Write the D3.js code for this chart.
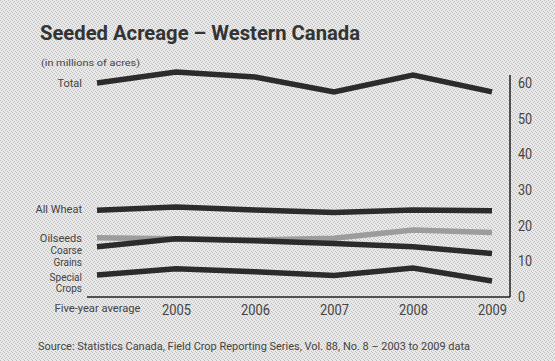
<!DOCTYPE html>
<html>
<head>
<meta charset="utf-8">
<script src="https://cdn.jsdelivr.net/npm/d3@7"></script>
<style>
  html, body { margin: 0; padding: 0; background: #e6e6e6; }
  svg { display: block; }
  text { font-family: "Roboto", "Liberation Sans", sans-serif; }
</style>
</head>
<body>
<svg id="chart" width="555" height="361"></svg>
<script>
// Seeded acreage, Western Canada (millions of acres)
const periods = ["Five-year average", "2005", "2006", "2007", "2008", "2009"];
const total        = [60.0, 63.1, 61.7, 57.5, 62.2, 57.5];
const allWheat     = [24.3, 25.2, 24.4, 23.7, 24.4, 24.2];
const oilseeds     = [16.6, 16.3, 16.0, 16.5, 18.8, 18.1];
const coarseGrains = [14.1, 16.3, 15.8, 15.0, 14.1, 12.2];
const specialCrops = [6.2, 7.9, 7.1, 6.0, 8.1, 4.5];
const yTicks = [0, 10, 20, 30, 40, 50, 60];

const series = [
  { name: ["Total"], values: total, color: "#2b2b2b" },
  { name: ["All Wheat"], values: allWheat, color: "#2b2b2b" },
  { name: ["Oilseeds"], values: oilseeds, color: "#9c9c9c" },
  { name: ["Coarse", "Grains"], values: coarseGrains, color: "#2b2b2b" },
  { name: ["Special", "Crops"], values: specialCrops, color: "#2b2b2b" }
];

const svg = d3.select("#chart");

// Fine grain texture for the paper background
const defs = svg.append("defs");
const pat = defs.append("pattern")
  .attr("id", "grain").attr("width", 4).attr("height", 4)
  .attr("patternUnits", "userSpaceOnUse");
pat.append("rect").attr("width", 4).attr("height", 4).attr("fill", "#eaeaea");
[[0,0],[2,1],[1,2],[3,3]].forEach(([x, y]) =>
  pat.append("rect").attr("x", x).attr("y", y).attr("width", 1).attr("height", 1).attr("fill", "#bdbdbd"));
svg.append("rect").attr("width", 555).attr("height", 361).attr("fill", "url(#grain)");

const x = d3.scalePoint().domain(periods).range([97, 492]);
const y = d3.scaleLinear().domain([0, 60]).range([297, 83]);

// Title block
svg.append("text")
  .attr("x", 40).attr("y", 40)
  .attr("font-size", 20).attr("font-weight", "bold")
  .attr("fill", "#333")
  .attr("textLength", 320).attr("lengthAdjust", "spacingAndGlyphs")
  .text("Seeded Acreage \u2013 Western Canada");

svg.append("text")
  .attr("x", 41).attr("y", 66)
  .attr("font-size", 9.5).attr("fill", "#444")
  .attr("textLength", 99).attr("lengthAdjust", "spacingAndGlyphs")
  .text("(in millions of acres)");

// Right-hand value axis
const yAxis = d3.axisRight(y).tickValues(yTicks).tickSize(0).tickPadding(8);
const gy = svg.append("g").attr("transform", "translate(510,0)").call(yAxis);
gy.select(".domain").attr("stroke", "#222").attr("stroke-width", 1.5)
  .attr("d", `M0,${y(60) - 8}V${y(0)}`);
gy.selectAll("text").attr("font-size", 14).attr("fill", "#444")
  .attr("font-family", "'Roboto Condensed', 'Liberation Sans Narrow', 'Roboto', sans-serif")
  .attr("transform", "scale(0.9,1)")
  .attr("x", 8 / 0.9);

// Baseline and period labels
const xAxis = d3.axisBottom(x).tickSize(0).tickPadding(7);
const gx = svg.append("g").attr("transform", `translate(0,${y(0)})`).call(xAxis);
gx.select(".domain").attr("stroke", "#222").attr("stroke-width", 1.5)
  .attr("d", "M87,0H510");
gx.selectAll("text")
  .attr("fill", "#444")
  .attr("font-size", d => d === periods[0] ? 11 : 15)
  .attr("textLength", d => d === periods[0] ? 86 : 29)
  .attr("lengthAdjust", "spacingAndGlyphs");

// Series lines
const line = d3.line().x((d, i) => x(periods[i])).y(d => y(d));
svg.append("g").selectAll("path").data(series).join("path")
  .attr("d", d => line(d.values))
  .attr("fill", "none")
  .attr("stroke", d => d.color)
  .attr("stroke-width", 5.5)
  .attr("stroke-linejoin", "miter");

// Series labels at the left end
const labelPos = {
  "Total": [83], "All Wheat": [209], "Oilseeds": [238],
  "Coarse": [250.5, 262], "Special": [277, 288.5]
};
const lg = svg.append("g");
series.forEach(s => {
  const ys = labelPos[s.name[0]];
  s.name.forEach((ln, i) => {
    lg.append("text")
      .attr("x", 82).attr("y", ys[i])
      .attr("dy", "0.35em")
      .attr("text-anchor", "end")
      .attr("font-size", s.name.length > 1 ? 10 : 11).attr("fill", "#444")
      .text(ln);
  });
});

// Source note
svg.append("text")
  .attr("x", 38).attr("y", 350)
  .attr("font-size", 10.5).attr("fill", "#444")
  .attr("textLength", 432).attr("lengthAdjust", "spacingAndGlyphs")
  .text("Source: Statistics Canada, Field Crop Reporting Series, Vol. 88, No. 8 \u2013 2003 to 2009 data");
</script>
</body>
</html>
